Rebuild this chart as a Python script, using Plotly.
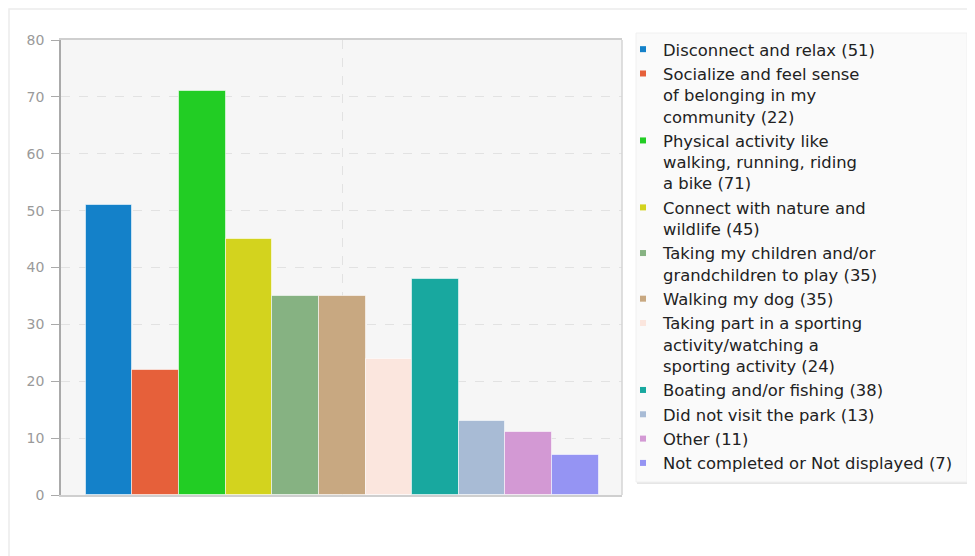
import plotly.graph_objects as go

_FONT = "DejaVu Sans"
_TICK = "#9a9a9a"
_GRID = "#e2e2e2"

labels = [
    "Disconnect and relax (51)",
    "Socialize and feel sense<br>of belonging in my<br>community (22)",
    "Physical activity like<br>walking, running, riding<br>a bike (71)",
    "Connect with nature and<br>wildlife (45)",
    "Taking my children and/or<br>grandchildren to play (35)",
    "Walking my dog (35)",
    "Taking part in a sporting<br>activity/watching a<br>sporting activity (24)",
    "Boating and/or fishing (38)",
    "Did not visit the park (13)",
    "Other (11)",
    "Not completed or Not displayed (7)",
]
counts = [51, 22, 71, 45, 35, 35, 24, 38, 13, 11, 7]
colors = [
    "#1481c9", "#e6603a", "#22cd24", "#d3d31e", "#86b282", "#c8a881",
    "#fbe6de", "#18a89f", "#a8bbd5", "#d399d4", "#9594f3",
]
y_ticks = [0, 10, 20, 30, 40, 50, 60, 70, 80]

# page body adds an 8px margin, so work in screen pixels and shift back
OFF = 8
W, H = 975 - OFF, 556 - OFF
L, T = 61 - OFF, 40 - OFF
PW, PH = 622 - 61, 495 - 40
R, B = W - L - PW, H - T - PH


def px_x(x):
    return (x - OFF - L) / PW


def px_y(y):
    return (T + PH - (y - OFF)) / PH


fig = go.Figure()
for i, (lab, v, c) in enumerate(zip(labels, counts, colors)):
    fig.add_trace(go.Bar(
        x=[i], y=[v], width=1,
        marker=dict(color=c, line=dict(color="rgba(255,255,255,0.55)", width=1)),
        showlegend=False, name=lab.replace("<br>", " "),
    ))
    # legend-only entry so the key can use a small square
    fig.add_trace(go.Scatter(
        x=[None], y=[None], mode="markers", name=lab,
        marker=dict(symbol="square", size=6, color=c),
    ))

shapes = [
    # outer card
    dict(type="rect", xref="paper", yref="paper", layer="below",
         x0=px_x(9), x1=px_x(990), y0=px_y(580), y1=px_y(9),
         line=dict(color="#ececec", width=1.5), fillcolor="rgba(0,0,0,0)"),
    # right frame of plot
    dict(type="line", xref="paper", yref="paper", x0=1, x1=1, y0=0, y1=1,
         line=dict(color="#d4d4d4", width=1.5)),
    # legend box shadow + box
    dict(type="rect", xref="paper", yref="paper",
         x0=px_x(637), x1=px_x(969), y0=px_y(484), y1=px_y(34),
         line=dict(width=0), fillcolor="#e6e6e6"),
    dict(type="rect", xref="paper", yref="paper",
         x0=px_x(636), x1=px_x(967), y0=px_y(482), y1=px_y(33),
         line=dict(color="#f0f0f0", width=1), fillcolor="#fafafa"),
]

fig.update_layout(
    width=W, height=H,
    margin=dict(l=L, r=R, t=T, b=B, autoexpand=False),
    paper_bgcolor="white",
    plot_bgcolor="#f6f6f6",
    font=dict(family=_FONT, color="#222222", size=13),
    bargap=0,
    shapes=shapes,
    xaxis=dict(
        range=[-1.03, 11.0], tickvals=[5], showticklabels=False, ticks="",
        showgrid=True, gridcolor=_GRID, griddash="dash", zeroline=False,
        showline=True, linecolor="#cfcfcf", linewidth=1.5, mirror=True,
        fixedrange=True,
    ),
    yaxis=dict(
        range=[0, 80], tickvals=y_ticks, ticks="outside", ticklen=8,
        tickcolor="#aaaaaa", tickfont=dict(color=_TICK, size=14, family=_FONT),
        ticklabelstandoff=4,
        showgrid=True, gridcolor=_GRID, griddash="dash", zeroline=False,
        showline=True, linecolor="#aaaaaa", linewidth=1.5,
    ),
    legend=dict(
        x=px_x(623), xanchor="left", y=px_y(32), yanchor="top",
        bgcolor="rgba(0,0,0,0)", borderwidth=0, valign="top",
        maxheight=540,
        font=dict(family=_FONT, size=16.4, color="#222222"),
        itemclick=False, itemdoubleclick=False,
    ),
)

fig.write_html("out.html")
